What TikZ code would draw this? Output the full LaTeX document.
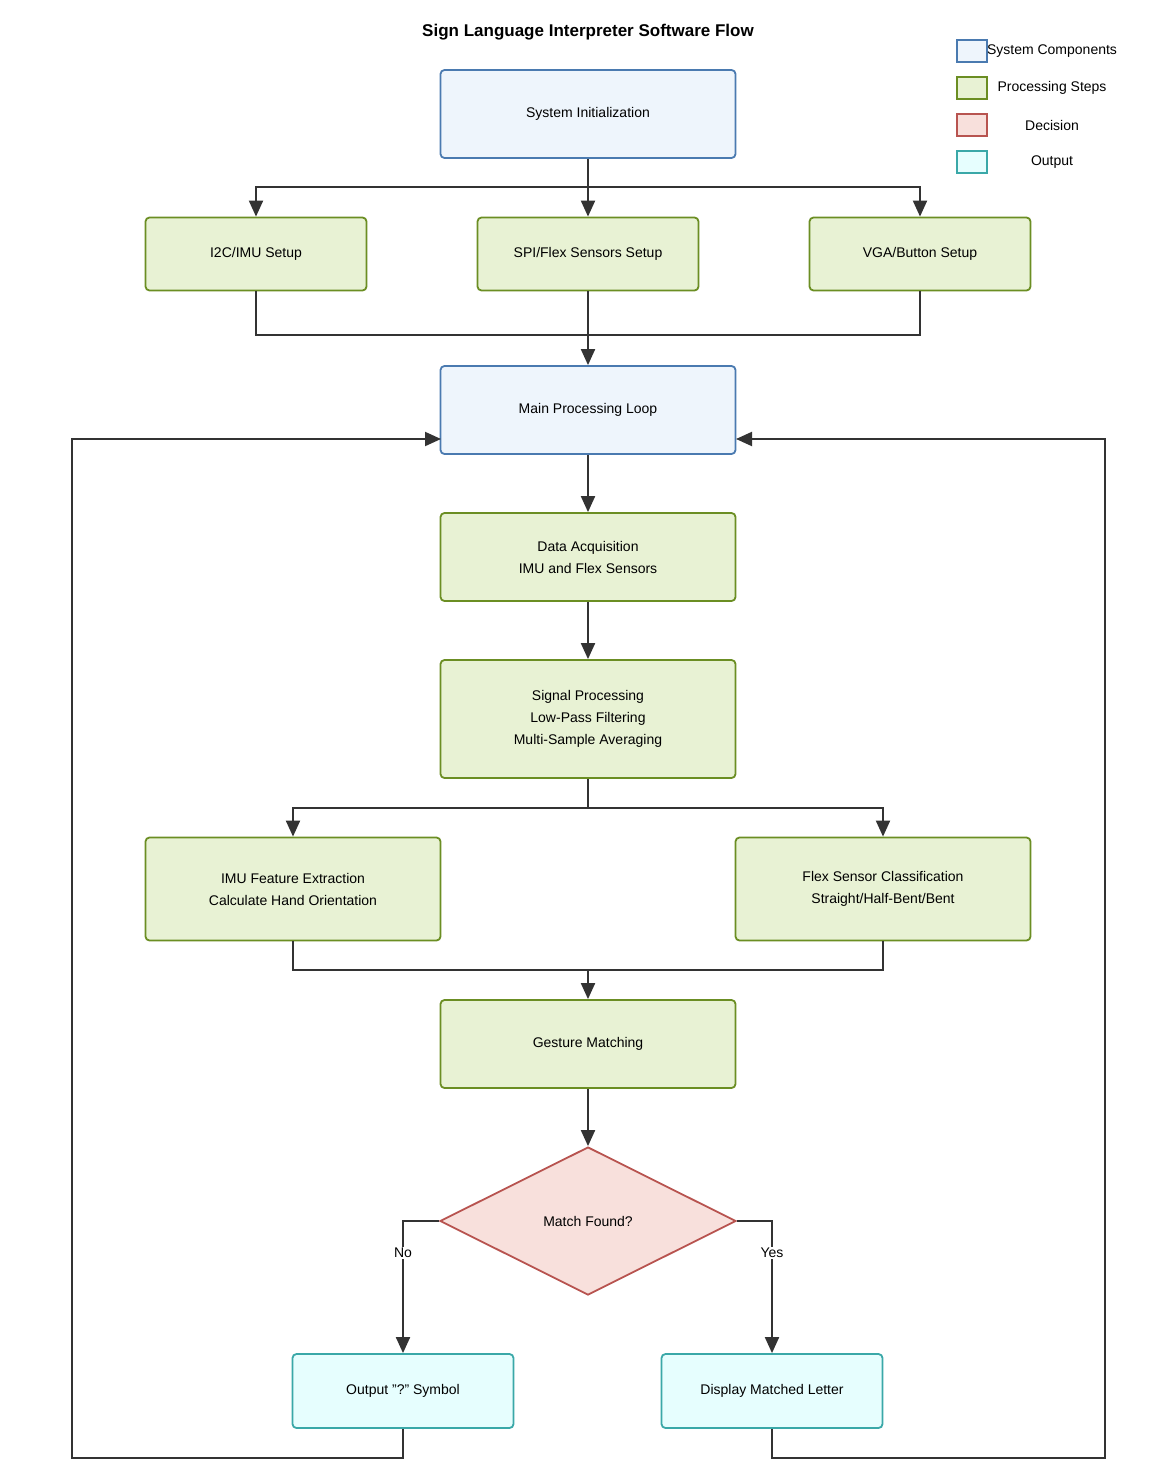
\documentclass[tikz,border=0pt]{standalone}
\usepackage{fontspec}
\setmainfont{Liberation Sans}
\usetikzlibrary{shapes.geometric,arrows.meta}
\definecolor{bS}{HTML}{4A7AB0}\definecolor{bF}{HTML}{EEF5FC}
\definecolor{gS}{HTML}{6B8E23}\definecolor{gF}{HTML}{E8F2D4}
\definecolor{rS}{HTML}{B85450}\definecolor{rF}{HTML}{F8E0DC}
\definecolor{cS}{HTML}{3AA8A8}\definecolor{cF}{HTML}{E6FEFE}
\definecolor{ln}{HTML}{333333}
\begin{document}
\begin{tikzpicture}[x=1pt,y=-1pt,
 every node/.style={font=\fontsize{14}{22}\selectfont,align=center},
 box/.style={draw,line width=1.8pt,rounded corners=4pt,minimum width=295pt,minimum height=88pt,inner sep=0pt},
 sys/.style={box,draw=bS,fill=bF},
 proc/.style={box,draw=gS,fill=gF},
 small/.style={minimum width=221pt,minimum height=73pt},
 outp/.style={box,draw=cS,fill=cF,minimum width=221pt,minimum height=74pt},
 dec/.style={diamond,draw=rS,fill=rF,line width=1.8pt,minimum width=296pt,minimum height=148pt,aspect=2,inner sep=0pt},
 lg/.style={draw,line width=1.5pt,minimum width=30pt,minimum height=22pt,inner sep=0pt},
 e/.style={draw=ln,line width=2pt,-{Triangle[length=16pt,width=14pt]}},
 l/.style={draw=ln,line width=2pt}]
\useasboundingbox (0,0) rectangle (1172,1466);
\node[font=\fontsize{17}{20}\selectfont\bfseries] (title) at (588,32) {Sign Language Interpreter Software Flow};
\node[sys] (init) at (588,114) {System Initialization};
\node[proc,small] (i2c) at (256,254) {I2C/IMU Setup};
\node[proc,small] (spi) at (588,254) {SPI/Flex Sensors Setup};
\node[proc,small] (vga) at (920,254) {VGA/Button Setup};
\node[sys] (main) at (588,410) {Main Processing Loop};
\node[proc] (data) at (588,557) {Data Acquisition\\IMU and Flex Sensors};
\node[proc,minimum height=118pt] (sig) at (588,719) {Signal Processing\\Low-Pass Filtering\\Multi-Sample Averaging};
\node[proc,minimum height=103pt] (imu) at (293,889) {IMU Feature Extraction\\Calculate Hand Orientation};
\node[proc,minimum height=103pt] (flex) at (883,889) {Flex Sensor Classification\\Straight/Half-Bent/Bent};
\node[proc] (gest) at (588,1044) {Gesture Matching};
\node[dec] (dec) at (588,1221) {Match Found?};
\node[outp] (q) at (403,1391) {Output "?" Symbol};
\node[outp] (disp) at (772,1391) {Display Matched Letter};
% legend
\node[lg,draw=bS,fill=bF] (l1) at (972,51) {};
\node[lg,draw=gS,fill=gF] (l2) at (972,88) {};
\node[lg,draw=rS,fill=rF] (l3) at (972,125) {};
\node[lg,draw=cS,fill=cF] (l4) at (972,162) {};
\node (t1) at (1052,51) {System Components};
\node (t2) at (1052,88) {Processing Steps};
\node (t3) at (1052,125) {Decision};
\node (t4) at (1052,162) {Output};
% edges
\coordinate (a) at (588,187);
\draw[l] (init.south) -- (a);
\draw[e] (a) -| (i2c.north);
\draw[e] (a) -- (spi.north);
\draw[e] (a) -| (vga.north);
\coordinate (b) at (588,335);
\draw[l] (i2c.south) |- (b);
\draw[l] (vga.south) |- (b);
\draw[e] (spi.south) -- (main.north);
\draw[e] (main.south) -- (data.north);
\draw[e] (data.south) -- (sig.north);
\coordinate (c) at (588,808);
\draw[l] (sig.south) -- (c);
\draw[e] (c) -| (imu.north);
\draw[e] (c) -| (flex.north);
\coordinate (d) at (588,970);
\draw[l] (imu.south) |- (d);
\draw[l] (flex.south) |- (d);
\draw[e] (d) -- (gest.north);
\draw[e] (gest.south) -- (dec.north);
\draw[e] (dec.west) -| (q.north) node[pos=0.62,fill=white,inner sep=1pt] {No};
\draw[e] (dec.east) -| (disp.north) node[pos=0.62,fill=white,inner sep=1pt] {Yes};
\coordinate (ml) at (441,439);
\coordinate (mr) at (736,439);
\draw[e] (q.south) -- ++(0,29) -| (72,439) -- (ml);
\draw[e] (disp.south) -- ++(0,29) -| (1105,439) -- (mr);
\end{tikzpicture}
\end{document}
